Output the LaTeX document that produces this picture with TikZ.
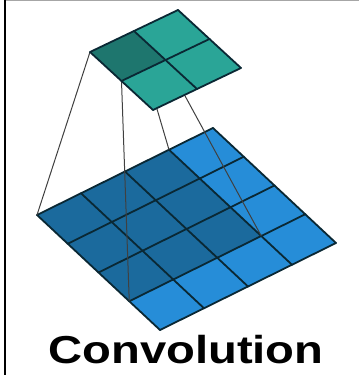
\documentclass[tikz,border=0pt]{standalone}
\usepackage{fontspec}
\newfontfamily\titlefont{Liberation Sans}[FakeStretch=1.21]
\usetikzlibrary{positioning}
\definecolor{inlight}{RGB}{38,141,216}
\definecolor{indark}{RGB}{27,106,157}
\definecolor{outlight}{RGB}{42,165,151}
\definecolor{outdark}{RGB}{30,118,110}
\definecolor{gridcol}{RGB}{10,40,52}

\begin{document}
\begin{tikzpicture}[
  x=1pt,y=1pt,
  gridln/.style={draw=gridcol,line width=1.8pt,line cap=round,line join=round},
  proj/.style={draw=black!75,line width=1pt},
  title/.style={font=\titlefont\bfseries\fontsize{39}{42}\selectfont,inner sep=0pt}
]
\useasboundingbox (0,0) rectangle (359,375);
% frame
\draw[black,line width=2pt] (5,0) -- (5,375);
\draw[gray!70,line width=1.2pt] (6,374.5) -- (359,374.5);

% input grid
\begin{scope}[cm={44,21.75,30.75,-28.75,(37,160)}]
  \fill[inlight] (0,0) rectangle (4,4);
  \fill[indark] (0,0) rectangle (3,3);
  \foreach \k in {0,...,4} {
    \draw[gridln] (\k,0) -- (\k,4);
    \draw[gridln] (0,\k) -- (4,\k);
  }
  \coordinate (in0) at (0,0);
  \coordinate (in1) at (3,0);
  \coordinate (in2) at (0,3);
  \coordinate (in3) at (3,3);
\end{scope}

% output grid corners
\begin{scope}[cm={44,21,31.5,-29,(90,323)}]
  \coordinate (out0) at (0,0);
  \coordinate (out1) at (1,0);
  \coordinate (out2) at (0,1);
  \coordinate (out3) at (1,1);
\end{scope}

\foreach \c in {0,...,3} \draw[proj] (out\c) -- (in\c);

% output grid
\begin{scope}[cm={44,21,31.5,-29,(90,323)}]
  \fill[outlight] (0,0) rectangle (2,2);
  \fill[outdark] (0,0) rectangle (1,1);
  \foreach \k in {0,...,2} {
    \draw[gridln] (\k,0) -- (\k,2);
    \draw[gridln] (0,\k) -- (2,\k);
  }
\end{scope}

\node[title,anchor=base] (lbl) at (186,12) {Convolution};
\end{tikzpicture}
\end{document}
